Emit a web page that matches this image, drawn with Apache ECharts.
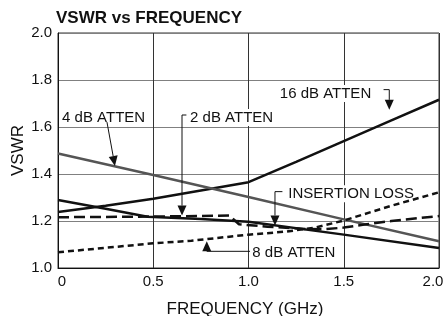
<!DOCTYPE html>
<html><head><meta charset="utf-8">
<script src="https://cdn.jsdelivr.net/npm/echarts@6/dist/echarts.min.js"></script>
<style>html,body{margin:0;padding:0;background:#fff}#c{width:444px;height:316px}</style>
</head><body><div id="c"></div>
<script>
// ---------- DATA ----------
const xTickLabels = ['0', '0.5', '1.0', '1.5', '2.0'];
const yTickLabels = ['1.0', '1.2', '1.4', '1.6', '1.8', '2.0'];
// [frequency GHz, VSWR]
const atten16 = [[0,1.238],[0.25,1.265],[0.5,1.295],[0.75,1.330],[1.0,1.365],[1.25,1.452],[1.5,1.540],[1.75,1.628],[2.0,1.716]];
const atten4 = [[0,1.487],[0.5,1.396],[1.0,1.302],[1.5,1.207],[2.0,1.114]];
const atten2 = [[0,1.289],[0.25,1.252],[0.47,1.218],[0.75,1.208],[1.0,1.197],[1.5,1.142],[2.0,1.085]];
const insertionLoss = [[0,1.216],[0.5,1.219],[0.9,1.223],[0.95,1.186],[1.1,1.176],[1.3,1.166],[1.4,1.165],[1.5,1.172],[1.6,1.184],[1.75,1.2],[2.0,1.221]];
const atten8 = [[0,1.067],[0.5,1.105],[0.7,1.116],[1.0,1.142],[1.2,1.155],[1.35,1.172],[1.5,1.202],[1.75,1.265],[2.0,1.322]];

// ---------- LAYOUT ----------
const FONT = '"Liberation Sans", Arial, Helvetica, sans-serif';
const annotations = [
  {text:'4 dB ATTEN', at:[0.016,1.651], path:[[0.257,1.621],[0.299,1.434]]},
  {text:'2 dB ATTEN', at:[0.688,1.651], path:[[0.674,1.651],[0.651,1.651],[0.651,1.223]]},
  {text:'16 dB ATTEN', at:[1.159,1.753], path:[[1.709,1.759],[1.739,1.759],[1.739,1.673]]},
  {text:'INSERTION LOSS', at:[1.204,1.327], path:[[1.178,1.325],[1.139,1.325],[1.139,1.181]]},
  {text:'8 dB ATTEN', at:[1.015,1.076], path:[[1.008,1.071],[0.781,1.071],[0.781,1.114]]}
];
const TEXT_DY = 2.5;

const chart = echarts.init(document.getElementById('c'), null, {renderer:'canvas'});
function lineSeries(name, data, color, dash) {
  return {name, type:'line', data, symbol:'none', smooth:false, z:2,
    lineStyle:{color, width:2.5, type:dash || 'solid', cap:'butt'}};
}
const lastX = xTickLabels.length - 1;
chart.setOption({
  animation:false,
  backgroundColor:'#fff',
  title:{text:'VSWR vs FREQUENCY', left:56, top:10, padding:0,
    textStyle:{fontFamily:FONT, fontSize:17, fontWeight:'bold', color:'#111'}},
  grid:{left:58, right:5, top:33, bottom:48, containLabel:false, outerBoundsMode:'none',
    show:true, borderColor:'#333', borderWidth:1, backgroundColor:'transparent'},
  xAxis:{type:'value', min:0, max:2, interval:0.5,
    name:'FREQUENCY (GHz)', nameLocation:'middle', nameGap:33, nameMoveOverlap:false,
    nameTextStyle:{fontFamily:FONT, fontSize:17, color:'#111', padding:[0,7,0,0]},
    axisLine:{show:true, lineStyle:{color:'#111', width:1}}, axisTick:{show:false},
    axisLabel:{margin:6, fontFamily:FONT, fontSize:15, color:'#111',
      formatter:v => {
        const i = Math.round(v/0.5);
        if (i === 0) return '{first|' + xTickLabels[i] + '}';
        if (i === lastX) return '{last|' + xTickLabels[i] + '}';
        return xTickLabels[i];
      },
      rich:{first:{fontFamily:FONT, fontSize:15, color:'#111', padding:[0,0,0,8]},
            last:{fontFamily:FONT, fontSize:15, color:'#111', padding:[0,12,0,0]}}},
    splitLine:{show:true, lineStyle:{color:'#333', width:1}}},
  yAxis:{type:'value', min:1, max:2, interval:0.2,
    name:'VSWR', nameLocation:'middle', nameGap:31, nameMoveOverlap:false,
    nameTextStyle:{fontFamily:FONT, fontSize:17, color:'#111'},
    axisLine:{show:true, lineStyle:{color:'#111', width:1}}, axisTick:{show:false},
    axisLabel:{margin:6, fontFamily:FONT, fontSize:15, color:'#111',
      formatter:v => yTickLabels[Math.round((v-1)/0.2)]},
    splitLine:{show:true, lineStyle:{color:'#808080', width:1}}},
  series:[
    lineSeries('16 dB ATTEN', atten16, '#111'),
    lineSeries('4 dB ATTEN', atten4, '#555'),
    lineSeries('2 dB ATTEN', atten2, '#111'),
    lineSeries('INSERTION LOSS', insertionLoss, '#111', [11,5]),
    lineSeries('8 dB ATTEN', atten8, '#111', [6,4])
  ]
});

// annotations converted from data space to pixels
const px = p => chart.convertToPixel({gridIndex:0}, p);
const els = [];
annotations.forEach(a => {
  const t = px(a.at);
  els.push({type:'text', z:1, style:{text:a.text, x:t[0], y:t[1] + TEXT_DY, align:'left', verticalAlign:'middle',
    font:'15px ' + FONT, fill:'#111', backgroundColor:'#fff', padding:[1,1]}});
  const pts = a.path.map(px);
  const tip = pts[pts.length-1], prev = pts[pts.length-2];
  const dx = tip[0]-prev[0], dy = tip[1]-prev[1], L = Math.hypot(dx,dy);
  const ux = dx/L, uy = dy/L, hl = 10, hw = 4.5;
  const base = [tip[0]-ux*hl, tip[1]-uy*hl];
  const linePts = pts.slice(0,-1).concat([base]);
  els.push({type:'polyline', z:3, shape:{points:linePts}, style:{stroke:'#111', lineWidth:1, fill:null}});
  els.push({type:'polygon', z:3, shape:{points:[tip,[base[0]-uy*hw, base[1]+ux*hw],[base[0]+uy*hw, base[1]-ux*hw]]},
    style:{fill:'#111', stroke:null}});
});
chart.setOption({graphic:{elements:els}});
</script></body></html>
